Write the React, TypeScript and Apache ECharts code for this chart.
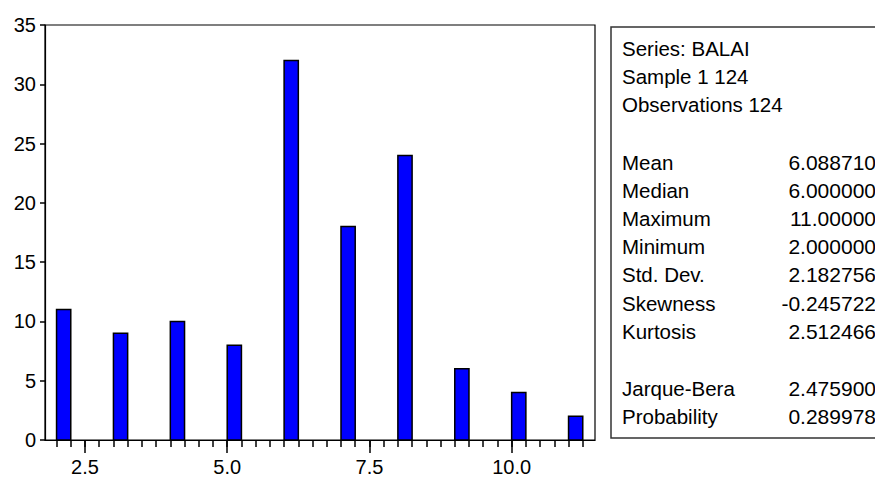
import React, { useEffect, useRef } from "react";
import * as echarts from "echarts";

// ---- data ----
const binStarts = [2, 3, 4, 5, 6, 7, 8, 9, 10, 11];
const counts = [11, 9, 10, 8, 32, 18, 24, 6, 4, 2];
const binWidth = 0.25;
const xLabelValues = [2.5, 5.0, 7.5, 10.0];
const yTickInterval = 5;
const yMax = 35;

const headerLines = ["Series: BALAI", "Sample 1 124", "Observations 124"];
const statLabels = ["Mean", "Median", "Maximum", "Minimum", "Std. Dev.", "Skewness", "Kurtosis"];
const statValues = ["6.088710", "6.000000", "11.00000", "2.000000", "2.182756", "-0.245722", "2.512466"];
const testLabels = ["Jarque-Bera", "Probability"];
const testValues = ["2.475900", "0.289978"];

// minor tick positions every 0.25 across the bins
const minorTicks: number[] = [];
for (let i = 0; i <= 37; i++) minorTicks.push(2 + i * 0.25);

const FONT = "'Liberation Sans', Arial, sans-serif";

export default function App() {
  const ref = useRef<HTMLDivElement>(null);
  useEffect(() => {
    if (!ref.current) return;
    const chart = echarts.init(ref.current, null, { renderer: "svg" });

    const textEls: any[] = [];
    const labelX = 622;
    const valueX = 876;
    const labelFont = `20.5px ${FONT}`;
    const valueFont = `21px ${FONT}`;
    headerLines.forEach((t, i) => {
      textEls.push({
        type: "text",
        x: labelX,
        y: 48 + i * 28,
        style: { text: t, fill: "#000", font: labelFont, textAlign: "left", verticalAlign: "middle" },
      });
    });
    statLabels.forEach((t, i) => {
      const y = 162 + i * 28.2;
      textEls.push({
        type: "text", x: labelX, y,
        style: { text: t, fill: "#000", font: labelFont, textAlign: "left", verticalAlign: "middle" },
      });
      textEls.push({
        type: "text", x: valueX, y,
        style: { text: statValues[i], fill: "#000", font: valueFont, textAlign: "right", verticalAlign: "middle" },
      });
    });
    testLabels.forEach((t, i) => {
      const y = 388 + i * 28;
      textEls.push({
        type: "text", x: labelX, y,
        style: { text: t, fill: "#000", font: labelFont, textAlign: "left", verticalAlign: "middle" },
      });
      textEls.push({
        type: "text", x: valueX, y,
        style: { text: testValues[i], fill: "#000", font: valueFont, textAlign: "right", verticalAlign: "middle" },
      });
    });

    const option: any = {
      animation: false,
      backgroundColor: "#fff",
      grid: {
        left: 45, top: 25, width: 550, height: 415,
        show: true, borderColor: "#000", borderWidth: 1.2, backgroundColor: "transparent",
        containLabel: false, outerBoundsMode: "none",
      },
      xAxis: [
        {
          type: "value", min: 1.797, max: 11.465, position: "bottom",
          splitLine: { show: false },
          axisLine: { show: true, onZero: false, lineStyle: { color: "#000", width: 1.2 } },
          axisTick: { show: true, inside: false, length: 13, customValues: xLabelValues, lineStyle: { color: "#000", width: 1.5 } },
          axisLabel: {
            show: true, customValues: xLabelValues, margin: 17,
            formatter: (v: number) => v.toFixed(1),
            color: "#000", fontSize: 20, fontFamily: FONT,
          },
        },
        {
          type: "value", min: 1.797, max: 11.465, position: "bottom",
          splitLine: { show: false },
          axisLine: { show: false, onZero: false },
          axisTick: { show: true, inside: false, length: 7, customValues: minorTicks, lineStyle: { color: "#000", width: 1.5 } },
          axisLabel: { show: false },
        },
      ],
      yAxis: {
        type: "value", min: 0, max: yMax, interval: yTickInterval,
        splitLine: { show: false },
        axisLine: { show: true, lineStyle: { color: "#000", width: 1.2 } },
        axisTick: { show: true, inside: false, length: 5, lineStyle: { color: "#000", width: 1.5 } },
        axisLabel: { color: "#000", fontSize: 20, fontFamily: FONT, margin: 9 },
      },
      series: [
        {
          type: "custom",
          xAxisIndex: 0,
          yAxisIndex: 0,
          data: binStarts.map((b, i) => [b, counts[i]]),
          renderItem: (params: any, api: any) => {
            const x = api.value(0);
            const v = api.value(1);
            const p0 = api.coord([x, v]);
            const p1 = api.coord([x + binWidth, 0]);
            return {
              type: "rect",
              shape: { x: p0[0], y: p0[1], width: p1[0] - p0[0], height: p1[1] - p0[1] },
              style: { fill: "#0000FF", stroke: "#000", lineWidth: 1.5 },
            };
          },
        },
      ],
      graphic: [
        {
          type: "rect",
          shape: { x: 611, y: 27, width: 300, height: 411 },
          style: { fill: "transparent", stroke: "#333", lineWidth: 1.5 },
        },
        ...textEls,
      ],
    };
    chart.setOption(option);
    return () => chart.dispose();
  }, []);

  return (
    <div
      ref={ref}
      style={{ position: "fixed", left: 0, top: 0, width: 875, height: 478, background: "#fff" }}
    />
  );
}
